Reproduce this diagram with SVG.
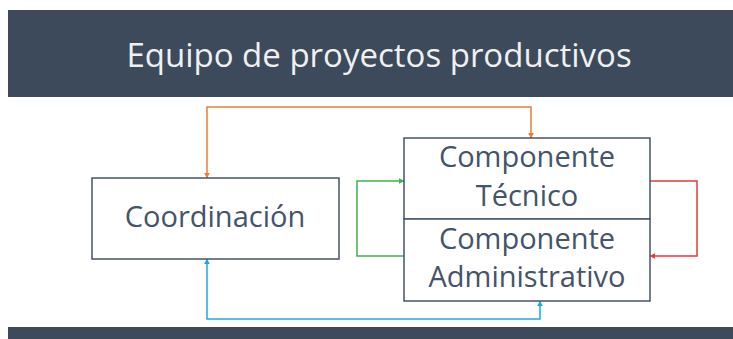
<svg xmlns="http://www.w3.org/2000/svg" width="733" height="339" viewBox="0 0 733 339">
<style>
.box{fill:#fff;stroke:#44546a;stroke-width:1.5}
.t{font-family:"Open Sans","Liberation Sans",sans-serif;fill:#44546a;text-anchor:middle;font-size:29px}
.c{fill:none;stroke-width:1.5}
</style>
<defs>
<marker id="ao" viewBox="0 0 10 10" refX="9" refY="5" markerWidth="6" markerHeight="6" markerUnits="userSpaceOnUse" orient="auto-start-reverse"><path d="M0,0L10,5L0,10z" fill="#ed7d31"/></marker>
<marker id="ag" viewBox="0 0 10 10" refX="9" refY="5" markerWidth="6" markerHeight="6" markerUnits="userSpaceOnUse" orient="auto-start-reverse"><path d="M0,0L10,5L0,10z" fill="#3cb44b"/></marker>
<marker id="ar" viewBox="0 0 10 10" refX="9" refY="5" markerWidth="6" markerHeight="6" markerUnits="userSpaceOnUse" orient="auto-start-reverse"><path d="M0,0L10,5L0,10z" fill="#e8383d"/></marker>
<marker id="ab" viewBox="0 0 10 10" refX="9" refY="5" markerWidth="6" markerHeight="6" markerUnits="userSpaceOnUse" orient="auto-start-reverse"><path d="M0,0L10,5L0,10z" fill="#1ba8e8"/></marker>
</defs>
<rect width="733" height="339" fill="#fff"/>
<g id="header">
<rect x="8" y="10" width="725" height="87" fill="#3c4a5c"/>
<text x="379" y="67" font-family="Open Sans,Liberation Sans,sans-serif" font-size="33" fill="#f0f0f0" text-anchor="middle">Equipo de proyectos productivos</text>
</g>
<rect id="footer" x="8" y="327" width="725" height="12" fill="#3c4a5c"/>
<g id="connectors">
<path class="c" stroke="#ed7d31" d="M207,178V107H531V138" marker-start="url(#ao)" marker-end="url(#ao)"/>
<path class="c" stroke="#3cb44b" d="M404,256H357V181H404" marker-end="url(#ag)"/>
<path class="c" stroke="#e8383d" d="M650,181H697V256H650" marker-end="url(#ar)"/>
<path class="c" stroke="#1ba8e8" d="M207,259V319H540V301" marker-start="url(#ab)" marker-end="url(#ab)"/>
</g>
<g id="coordinacion">
<rect class="box" x="92" y="178" width="247" height="81"/>
<text class="t" x="215" y="227">Coordinación</text>
</g>
<g id="tecnico">
<rect class="box" x="404" y="138" width="246" height="81"/>
<text class="t" x="527" y="167">Componente</text>
<text class="t" x="527" y="206">Técnico</text>
</g>
<g id="administrativo">
<rect class="box" x="404" y="219" width="246" height="82"/>
<text class="t" x="527" y="249">Componente</text>
<text class="t" x="527" y="287">Administrativo</text>
</g>
</svg>
